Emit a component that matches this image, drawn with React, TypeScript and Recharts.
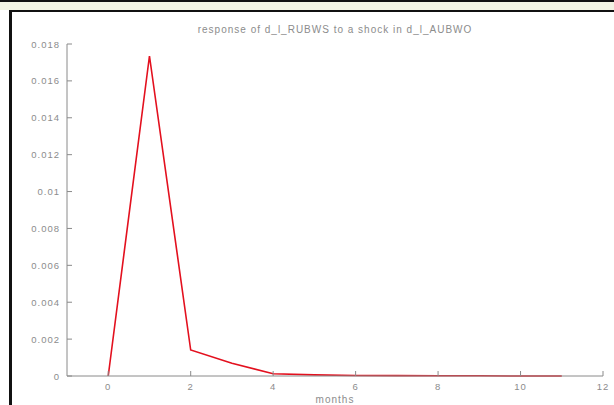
import React from 'react';
import { LineChart, Line, XAxis, YAxis } from 'recharts';

const months = [0, 1, 2, 3, 4, 5, 6, 7, 8, 9, 10, 11];
const response = [0, 0.01735, 0.00141, 0.00069, 0.00012, 0.00006, 0.00003, 0.00002, 0.00001, 0.00001, 0, 0];
const xTicks = [0, 2, 4, 6, 8, 10, 12];
const yTicks = [0, 0.002, 0.004, 0.006, 0.008, 0.01, 0.012, 0.014, 0.016, 0.018];

const data = months.map((m, i) => ({ month: m, value: response[i] }));

const AXIS = '#8a8a8a';
const TEXT = '#8c8c8c';
const FONT = 'Liberation Sans, Arial, sans-serif';

const BottomTick = (props: any) => {
  const { x, y, payload } = props;
  return (
    <g>
      <line x1={x} x2={x} y1={y} y2={y - 5} stroke={AXIS} />
      <text x={x} y={y + 14} textAnchor="middle" fontSize={9.5} fill={TEXT} fontFamily={FONT} letterSpacing={1}>
        {payload.value}
      </text>
    </g>
  );
};

const TopTick = (props: any) => {
  const { x, y } = props;
  return <line x1={x} x2={x} y1={y} y2={y + 5} stroke={AXIS} />;
};

const LeftTick = (props: any) => {
  const { x, y, payload } = props;
  return (
    <g>
      <line x1={x} x2={x + 5} y1={y} y2={y} stroke={AXIS} />
      <text x={x - 7} y={y + 3.5} textAnchor="end" fontSize={9.5} fill={TEXT} fontFamily={FONT} letterSpacing={1}>
        {String(payload.value)}
      </text>
    </g>
  );
};

const RightTick = (props: any) => {
  const { x, y } = props;
  return <line x1={x} x2={x - 5} y1={y} y2={y} stroke={AXIS} />;
};

export default function App() {
  return (
    <div style={{ position: 'absolute', left: 0, top: 0, width: 614, height: 405, background: '#fff', overflow: 'hidden' }}>
      <div style={{ position: 'absolute', left: 0, top: 0, width: 614, height: 10, background: '#f2f4e4' }} />
      <div style={{ position: 'absolute', left: 0, top: 0, width: 614, height: 2, background: '#111' }} />
      <div style={{ position: 'absolute', left: 9, top: 10, width: 605, height: 2, background: '#111' }} />
      <div style={{ position: 'absolute', left: 9, top: 10, width: 3, height: 395, background: '#111' }} />
      <div
        style={{
          position: 'absolute',
          left: 0,
          top: 24,
          width: 670,
          textAlign: 'center',
          fontSize: 10,
          letterSpacing: 1,
          color: TEXT,
          fontFamily: FONT,
        }}
      >
        response of d_l_RUBWS to a shock in d_l_AUBWO
      </div>
      <div
        style={{
          position: 'absolute',
          left: 0,
          top: 394,
          width: 670,
          textAlign: 'center',
          fontSize: 10,
          letterSpacing: 1,
          color: TEXT,
          fontFamily: FONT,
        }}
      >
        months
      </div>
      <div style={{ position: 'absolute', left: 0, top: 0 }}>
        <LineChart width={614} height={405} data={data} margin={{ top: 44, right: 11, left: 0, bottom: 0 }}>
          <XAxis
            xAxisId="b"
            dataKey="month"
            type="number"
            domain={[-1, 12]}
            ticks={xTicks}
            height={29}
            tickSize={0}
            tickMargin={0}
            tickLine={false}
            tick={<BottomTick />}
            stroke={AXIS}
            interval={0}
          />
          <XAxis
            xAxisId="t"
            dataKey="month"
            type="number"
            orientation="top"
            domain={[-1, 12]}
            ticks={xTicks}
            height={0}
            tickSize={0}
            tickMargin={0}
            tickLine={false}
            tick={<TopTick />}
            stroke={AXIS}
            interval={0}
          />
          <YAxis
            yAxisId="l"
            type="number"
            domain={[0, 0.018]}
            ticks={yTicks}
            width={67}
            tickSize={0}
            tickMargin={0}
            tickLine={false}
            tick={<LeftTick />}
            stroke={AXIS}
            interval={0}
          />
          <YAxis
            yAxisId="r"
            type="number"
            orientation="right"
            domain={[0, 0.018]}
            ticks={yTicks}
            width={0}
            tickSize={0}
            tickMargin={0}
            tickLine={false}
            tick={<RightTick />}
            stroke={AXIS}
            interval={0}
          />
          <Line
            xAxisId="b"
            yAxisId="l"
            type="linear"
            dataKey="value"
            stroke="#e3101e"
            strokeWidth={1.6}
            dot={false}
            isAnimationActive={false}
          />
        </LineChart>
      </div>
    </div>
  );
}
